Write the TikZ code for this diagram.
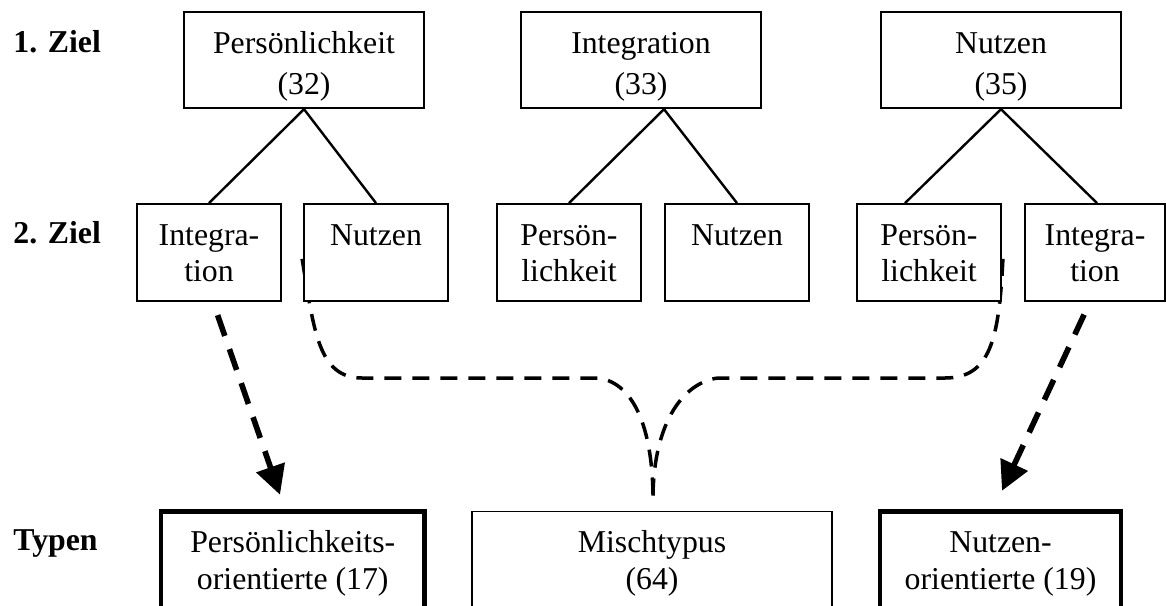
\documentclass[tikz,border=0pt]{standalone}
\usepackage{fontspec}
\setmainfont{Liberation Serif}
\usetikzlibrary{arrows.meta,calc,backgrounds}
\newcommand\topH{\rule{0pt}{17.5pt}}
\newcommand\smH{\rule{0pt}{14.85pt}}
\newcommand\botD{\rule[-4pt]{0pt}{4pt}}
\begin{document}
\begin{tikzpicture}[x=0.5pt,y=-0.5pt,
  zbox/.style={draw=black, line width=0.9pt, fill=white, inner sep=0pt, align=center,
    minimum width=72pt, minimum height=48.5pt, font=\fontsize{15.9pt}{18.35pt}\selectfont},
  topbox/.style={zbox, minimum width=120pt, minimum height=48pt, font=\fontsize{15.9pt}{20.5pt}\selectfont},
  typbox/.style={zbox, minimum height=48.5pt},
  thickbox/.style={typbox, line width=2.25pt},
  lbl/.style={anchor=base west, inner sep=0pt, font=\fontsize{15.9pt}{18pt}\selectfont\bfseries},
  tree/.style={line width=1.2pt},
  mixline/.style={line width=1.75pt, dash pattern=on 8.5pt off 5.5pt},
  typarrow/.style={line width=2.8pt, dash pattern=on 11pt off 7pt, dash phase=11pt,
    -{Triangle[length=14.5pt,width=14.5pt]}}
]
\useasboundingbox (0,0) rectangle (1166,605);
\clip (0,0) rectangle (1166,605);

% row labels
\node[lbl] (l1) at (13,52.3) {1. Ziel};
\node[lbl] (l2) at (13,243.3) {2. Ziel};
\node[lbl] (l3) at (13,550) {Typen};

% first goal
\node[topbox] (t1) at (304,60.3) {\topH Persönlichkeit\\(32)\botD};
\node[topbox] (t2) at (641,60.3) {\topH Integration\\(33)\botD};
\node[topbox] (t3) at (1001,60.3) {\topH Nutzen\\(35)\botD};

% second goal
\node[zbox] (s1) at (209,252.5) {\smH Integra-\\tion\botD};
\node[zbox] (s2) at (376,252.5) {\smH Nutzen\\\botD};
\node[zbox] (s3) at (569,252.5) {\smH Persön-\\lichkeit\botD};
\node[zbox] (s4) at (737,252.5) {\smH Nutzen\\\botD};
\node[zbox] (s5) at (929,252.5) {\smH Persön-\\lichkeit\botD};
\node[zbox, minimum width=70pt] (s6) at (1095,252.5) {\smH Integra-\\tion\botD};

% types
\node[thickbox, minimum width=131.75pt] (b1) at (292.75,560) {\smH Persönlichkeits-\\orientierte (17)\botD};
\node[typbox, minimum width=180pt] (b2) at (652,560) {\smH Mischtypus\\(64)\botD};
\node[thickbox, minimum width=120.5pt] (b3) at (1000.5,560) {\smH Nutzen-\\orientierte (19)\botD};

% tree lines
\draw[tree] (t1.south) -- (s1.north);
\draw[tree] (t1.south) -- (s2.north);
\draw[tree] ($(t2.south)+(23,0)$) -- (s3.north);
\draw[tree] ($(t2.south)+(23,0)$) -- (s4.north);
\draw[tree] (t3.south) -- ($(s5.north)+(-24,0)$);
\draw[tree] (t3.south) -- ($(s6.north)+(2,0)$);

% mixed type connectors
\coordinate (cL) at ($(s2.south west)+(-1,-43)$);
\coordinate (cR) at ($(s5.south east)+(1,-43)$);
\coordinate (cM) at ($(b2.north)+(1,-15)$);
\begin{scope}[on background layer]
\draw[mixline] (cL) .. controls (314,330) and (318,378) .. (362,378) -- (598,378)
  .. controls (630,382) and (652,420) .. (cM);
\draw[mixline] (cR) .. controls (999,340) and (990,378) .. (945,378) -- (718,378)
  .. controls (685,382) and (654,420) .. (cM);
\end{scope}

% type arrows
\draw[typarrow] ($(s1.south)+(4,0)$) -- ($(b1.north)+(-12.75,-14.5)$);
\draw[typarrow] ($(s6.south)+(-5,0)$) -- ($(b3.north)+(1.5,-18.5)$);
\end{tikzpicture}
\end{document}
